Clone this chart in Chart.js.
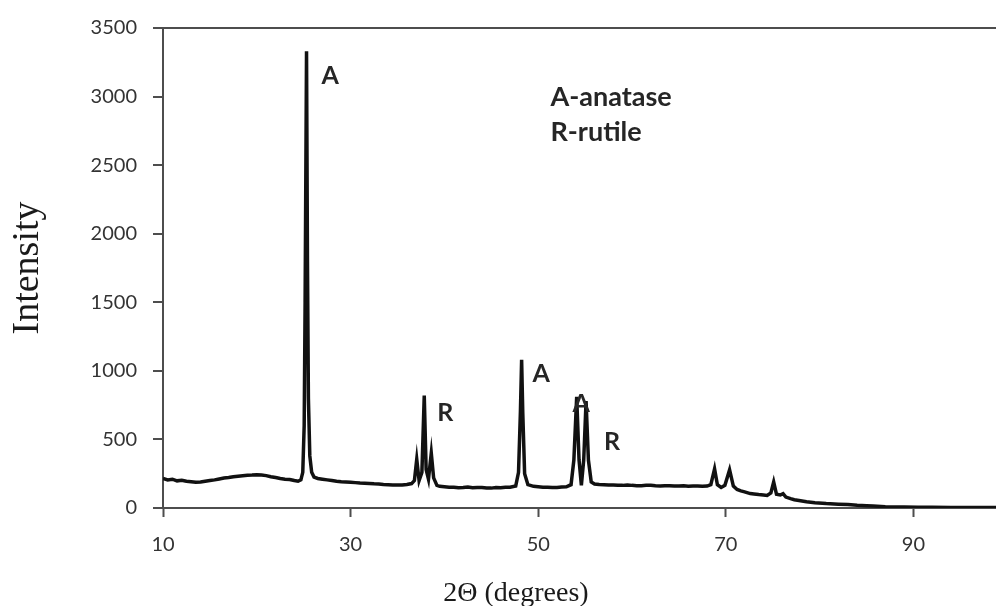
<!DOCTYPE html>
<html>
<head>
<meta charset="utf-8">
<script src="https://cdn.jsdelivr.net/npm/chart.js@4.4.0/dist/chart.umd.min.js"></script>
<style>
  html, body { margin: 0; padding: 0; background: #fff; }
  #wrap { width: 996px; height: 606px; }
</style>
</head>
<body>
<div id="wrap"><canvas id="xrd-chart"></canvas></div>
<script>
// XRD pattern
let twoTheta = [
  10.0, 10.5, 11.0, 11.5, 12.0, 12.5, 13.0, 13.5, 14.0, 14.5, 15.0, 15.5, 16.0, 16.5,
  17.0, 17.5, 18.0, 18.5, 19.0, 19.5, 20.0, 20.5, 21.0, 21.5, 22.0, 22.5, 23.0, 23.5,
  24.0, 24.4, 24.7, 24.9, 25.05, 25.15, 25.3, 25.4, 25.5, 25.65, 25.85, 26.1, 26.5,
  27.0, 27.5, 28.0, 28.5, 29.0, 29.5, 30.0, 30.5, 31.0, 31.5, 32.0, 32.5, 33.0, 33.5,
  34.0, 34.5, 35.0, 35.5, 36.0, 36.5, 36.8, 37.05, 37.3, 37.6, 37.85, 38.05, 38.3,
  38.6, 38.85, 39.2, 39.5, 40.0, 40.5, 41.0, 41.5, 42.0, 42.5, 43.0, 43.5, 44.0, 44.5,
  45.0, 45.5, 46.0, 46.5, 47.0, 47.6, 47.9, 48.1, 48.23, 48.35, 48.55, 48.9, 49.5,
  50.0, 50.5, 51.0, 51.5, 52.0, 52.5, 53.0, 53.5, 53.8, 54.1, 54.35, 54.6, 54.85,
  55.1, 55.35, 55.65, 56.0, 56.5, 57.0, 57.5, 58.0, 58.5, 59.0, 59.5, 60.0, 60.5,
  61.0, 61.5, 62.0, 62.5, 63.0, 63.5, 64.0, 64.5, 65.0, 65.5, 66.0, 66.5, 67.0, 67.5,
  68.0, 68.4, 68.8, 69.1, 69.5, 69.9, 70.4, 70.8, 71.2, 71.6, 72.0, 72.6, 73.0, 73.5,
  74.0, 74.4, 74.8, 75.1, 75.4, 75.8, 76.1, 76.4, 76.9, 77.3, 77.8, 78.6, 79.5, 80.7,
  82.0, 83.0, 84.0, 85.0, 85.7, 87.0, 88.0, 89.0, 90.5, 92.0, 94.0, 96.0, 98.8
];
let intensity = [
  215, 205, 210, 198, 202, 195, 192, 188, 190, 195, 200, 205, 212, 218,
  222, 228, 232, 235, 238, 240, 243, 240, 236, 228, 222, 215, 210, 208,
  200, 195, 205, 260, 600, 1500, 3330, 1800, 800, 380, 260, 225, 215,
  210, 205, 200, 195, 192, 190, 188, 185, 182, 180, 178, 176, 175, 172,
  170, 168, 167, 168, 172, 178, 200, 355, 200, 260, 820, 280, 210,
  400, 220, 165, 158, 155, 152, 152, 148, 150, 153, 148, 150, 150, 146,
  145, 150, 148, 152, 152, 160, 260, 700, 1080, 700, 250, 170, 158,
  155, 152, 152, 150, 150, 153, 155, 170, 350, 810, 350, 165, 350,
  780, 350, 190, 175, 172, 170, 168, 168, 166, 165, 168, 165, 163,
  162, 165, 165, 162, 160, 163, 162, 160, 160, 162, 158, 160, 160, 158,
  160, 170, 285, 170, 150, 165, 278, 160, 135, 125, 118, 105, 102, 98,
  95, 92, 110, 190, 100, 95, 105, 80, 68, 60, 55, 45, 38, 32,
  28, 25, 20, 17, 15, 10, 8, 7, 6, 5, 4, 4, 3
];

let xTicks = [10, 30, 50, 70, 90];

// annotations
let peakLabels = ['A', 'R', 'A', 'A', 'R'];
let peakLabelX = [27.83, 40.08, 50.31, 54.57, 57.87];
let peakLabelY = [3150, 694, 976, 759, 483];
let legendLines = ['A-anatase', 'R-rutile'];
let legendX = 51.3;
let legendY = [2997, 2736];

const points = twoTheta.map(function (t, i) {
    return { x: t, y: intensity[i] };
});

const axisColor = '#4d4d4d';
const tickFont = { family: 'Lato', size: 20 };

const textPlugin = {
    id: 'xrdText',
    afterDatasetsDraw(chart) {
        const { ctx, chartArea, scales } = chart;
        const x = scales.x, y = scales.y;
        ctx.save();
        ctx.fillStyle = '#262626';
        ctx.font = 'bold 25px Lato';
        ctx.textAlign = 'center';
        ctx.textBaseline = 'middle';
        peakLabels.forEach(function (label, i) {
            ctx.fillText(label, x.getPixelForValue(peakLabelX[i]), y.getPixelForValue(peakLabelY[i]));
        });
        ctx.textAlign = 'left';
        ctx.font = 'bold 27px Lato';
        legendLines.forEach(function (line, i) {
            ctx.fillText(line, x.getPixelForValue(legendX), y.getPixelForValue(legendY[i]));
        });

        // axis titles
        ctx.fillStyle = '#1a1a1a';
        ctx.textAlign = 'center';
        ctx.font = '28px "Liberation Serif"';
        ctx.fillText('2\u0398 (degrees)', chartArea.left + 353, chartArea.bottom + 86);
        ctx.translate(28, (chartArea.top + chartArea.bottom) / 2);
        ctx.rotate(-Math.PI / 2);
        ctx.font = '38px "Liberation Serif"';
        ctx.fillText('Intensity', 0, 0);
        ctx.restore();
    }
};

const ctx = document.getElementById('xrd-chart');

let chart = new Chart(ctx, {
    type: 'line',
    data: {
        datasets: [{
            label: 'XRD',
            data: points,
            borderColor: '#111',
            borderWidth: 3.5,
            pointRadius: 0,
            tension: 0
        }]
    },
    options: {
        responsive: true,
        maintainAspectRatio: false,
        animation: false,
        layout: {
            padding: { top: 25, left: 0, right: 0, bottom: 0 }
        },
        scales: {
            x: {
                type: 'linear',
                min: 10,
                max: 98.8,
                afterBuildTicks: function (scale) {
                    scale.ticks = xTicks.map(function (v) { return { value: v }; });
                },
                afterFit: function (scale) { scale.height = 98; },
                grid: {
                    drawOnChartArea: false,
                    tickLength: 9,
                    tickWidth: 2,
                    tickColor: axisColor
                },
                border: { display: true, color: axisColor, width: 2 },
                ticks: {
                    font: tickFont,
                    color: '#333',
                    padding: 16,
                    maxRotation: 0,
                    callback: function (v) { return String(v); }
                }
            },
            y: {
                min: 0,
                max: 3500,
                afterFit: function (scale) { scale.width = 163; },
                grid: {
                    color: function (c) { return c.tick && c.tick.value === 3500 ? axisColor : 'transparent'; },
                    lineWidth: 2,
                    tickLength: 10,
                    tickWidth: 2,
                    tickColor: axisColor
                },
                border: { display: true, color: axisColor, width: 2 },
                ticks: {
                    stepSize: 500,
                    font: tickFont,
                    color: '#333',
                    padding: 16,
                    callback: function (v) { return String(v); }
                }
            }
        },
        plugins: {
            legend: { display: false },
            tooltip: { enabled: false }
        }
    },
    plugins: [textPlugin]
});
</script>
</body>
</html>
